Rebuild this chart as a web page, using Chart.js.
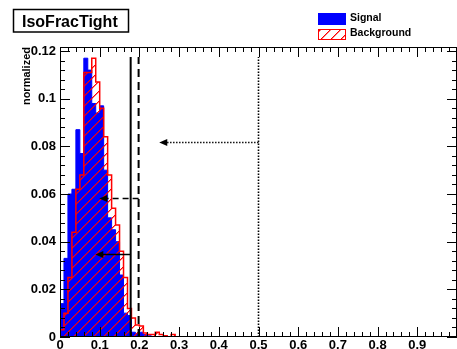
<!DOCTYPE html>
<html>
<head>
<meta charset="utf-8">
<script src="https://cdn.jsdelivr.net/npm/chart.js@4.4.1/dist/chart.umd.min.js"></script>
<style>
  html, body { margin: 0; padding: 0; background: #fff; }
  #wrap { width: 457px; height: 349px; }
</style>
</head>
<body>
<div id="wrap"><canvas id="c" width="457" height="349"></canvas></div>
<script>
// IsoFracTight distributions, normalized, bins of 0.01 starting at 0
const binWidth = 0.01;
const signal = [0.014, 0.033, 0.060, 0.062, 0.087, 0.077, 0.117, 0.112, 0.098, 0.094,
                0.097, 0.070, 0.050, 0.045, 0.040, 0.026, 0.010, 0.009, 0.002, 0.0015,
                0.002, 0.001, 0.0005, 0];
const background = [0.003, 0.010, 0.025, 0.044, 0.062, 0.068, 0.111, 0.111, 0.117, 0.107,
                    0.096, 0.084, 0.068, 0.054, 0.047, 0.036, 0.025, 0.012, 0.008, 0.005,
                    0.0046, 0.0017, 0.001, 0.001, 0.002, 0.001, 0.0005, 0, 0.001, 0];
const seriesNames = ['Signal', 'Background'];

const xTickLabels = ['0', '0.1', '0.2', '0.3', '0.4', '0.5', '0.6', '0.7', '0.8', '0.9'];
const yTickLabels = ['0', '0.02', '0.04', '0.06', '0.08', '0.1', '0.12'];
const xRange = [0, 1];
const yRange = [0, 0.1217];

// cut positions with their left-pointing arrows
const cutValues   = [0.178, 0.198, 0.5];
const arrowTips   = [0.089, 0.099, 0.25];
const arrowLevels = [0.035, 0.0585, 0.082];
const cutStyles   = ['solid', 'dashed', 'dotted'];
const cutLineTop  = 0.1175;

const plotTitle = 'IsoFracTight';
const yAxisTitle = 'normalized';

const FONT = '"Liberation Sans", Arial, Helvetica, sans-serif';
Chart.defaults.font.family = FONT;
Chart.defaults.color = '#000';

const canvas = document.getElementById('c');
const ctx2d = canvas.getContext('2d');

// crisp "///" hatch made of pixel steps
function makeHatch(color, size) {
  const c = document.createElement('canvas');
  c.width = size; c.height = size;
  const g = c.getContext('2d');
  g.fillStyle = color;
  for (let i = 0; i < size; i++) g.fillRect(i, size - 1 - i, 1, 1);
  g.globalAlpha = 0.5;
  for (let i = 0; i < size; i++) g.fillRect(i, (size - i) % size, 1, 1);
  return ctx2d.createPattern(c, 'repeat');
}
const redHatch = makeHatch('rgb(255,0,0)', 10);

// step outline points: left edge of each bin, closed down to zero and run out to the axis end
function histPoints(values) {
  const pts = [{ x: 0, y: 0 }];
  values.forEach((v, i) => pts.push({ x: i * binWidth, y: v }));
  pts.push({ x: values.length * binWidth, y: 0 });
  pts.push({ x: xRange[1], y: 0 });
  return pts;
}

function dashFor(style) {
  if (style === 'dashed') return [8, 5];
  if (style === 'dotted') return [1.4, 1.6];
  return [];
}

const cutsPlugin = {
  id: 'cuts',
  afterDatasetsDraw(chart) {
    const { ctx, scales: { x, y } } = chart;
    ctx.save();
    ctx.strokeStyle = '#000';
    ctx.fillStyle = '#000';
    cutValues.forEach((cv, i) => {
      const style = cutStyles[i];
      const px = x.getPixelForValue(cv);
      // vertical cut line
      ctx.lineWidth = style === 'dotted' ? 1.6 : 2;
      ctx.setLineDash(dashFor(style));
      ctx.beginPath();
      ctx.moveTo(px, y.getPixelForValue(0));
      ctx.lineTo(px, y.getPixelForValue(cutLineTop));
      ctx.stroke();
      // arrow shaft
      const py = Math.round(y.getPixelForValue(arrowLevels[i])) + 0.5;
      const tip = x.getPixelForValue(arrowTips[i]);
      ctx.lineWidth = style === 'dotted' ? 1.4 : 1.5;
      ctx.setLineDash(style === 'dashed' ? [6, 4] : dashFor(style));
      ctx.beginPath();
      ctx.moveTo(px, py);
      ctx.lineTo(tip + 6, py);
      ctx.stroke();
      // arrow head
      ctx.setLineDash([]);
      ctx.beginPath();
      ctx.moveTo(tip, py);
      ctx.lineTo(tip + 8, py - 3.5);
      ctx.lineTo(tip + 8, py + 3.5);
      ctx.closePath();
      ctx.fill();
    });
    ctx.restore();
  }
};

const framePlugin = {
  id: 'frame',
  afterDraw(chart) {
    const { ctx, chartArea: a, scales: { x, y } } = chart;
    ctx.save();
    ctx.strokeStyle = '#000';
    ctx.lineWidth = 1;
    ctx.setLineDash([]);
    ctx.strokeRect(a.left + 0.5, a.top + 0.5, a.right - a.left - 1, a.bottom - a.top - 1);
    ctx.beginPath();
    // x ticks, bottom and top, pointing inward
    for (let k = 0; k <= 50; k++) {
      const px = Math.round(x.getPixelForValue(k * 0.02)) + 0.5;
      const len = k % 5 === 0 ? 10 : 5;
      ctx.moveTo(px, a.bottom); ctx.lineTo(px, a.bottom - len);
      ctx.moveTo(px, a.top); ctx.lineTo(px, a.top + len);
    }
    // y ticks, left and right, pointing inward
    for (let k = 0; k <= 30; k++) {
      const v = k * 0.004;
      if (v > yRange[1]) break;
      const py = Math.round(y.getPixelForValue(v)) + 0.5;
      const len = k % 5 === 0 ? 10 : 5;
      ctx.moveTo(a.left, py); ctx.lineTo(a.left + len, py);
      ctx.moveTo(a.right, py); ctx.lineTo(a.right - len, py);
    }
    ctx.stroke();

    // x tick labels placed on the x scale
    ctx.fillStyle = '#000';
    ctx.font = 'bold 13px ' + FONT;
    ctx.textAlign = 'center';
    ctx.textBaseline = 'alphabetic';
    xTickLabels.forEach(l => {
      ctx.fillText(l, x.getPixelForValue(parseFloat(l)), a.bottom + 12);
    });

    // title box
    ctx.lineWidth = 1.5;
    ctx.strokeRect(13.5, 9.5, 115, 22.5);
    ctx.font = 'bold 16px ' + FONT;
    ctx.textAlign = 'left';
    ctx.fillText(plotTitle, 22, 26.5);

    // legend
    const ds = chart.data.datasets;
    ctx.font = 'bold 10.5px ' + FONT;
    ctx.fillStyle = ds[1].backgroundColor;
    ctx.fillRect(318, 13, 28, 12);
    ctx.fillStyle = '#000';
    ctx.fillText(ds[1].label, 350, 21);
    ctx.fillStyle = '#fff';
    ctx.fillRect(318, 29, 28, 11);
    ctx.fillStyle = ds[0].backgroundColor;
    ctx.fillRect(318, 29, 28, 11);
    ctx.strokeStyle = ds[0].borderColor;
    ctx.lineWidth = 1;
    ctx.strokeRect(318.5, 29.5, 27, 10);
    ctx.fillStyle = '#000';
    ctx.fillText(ds[0].label, 350, 36);
    ctx.restore();
  }
};

new Chart(canvas, {
  type: 'line',
  data: {
    datasets: [
      {
        label: seriesNames[1],
        data: histPoints(background),
        stepped: 'before',
        borderColor: 'rgb(255,0,0)',
        borderWidth: 1.5,
        backgroundColor: redHatch,
        fill: 'origin',
        pointRadius: 0,
        order: 1
      },
      {
        label: seriesNames[0],
        data: histPoints(signal),
        stepped: 'before',
        borderColor: 'rgb(0,0,255)',
        borderWidth: 1,
        backgroundColor: 'rgb(0,0,255)',
        fill: 'origin',
        pointRadius: 0,
        order: 2
      }
    ]
  },
  options: {
    responsive: false,
    animation: false,
    devicePixelRatio: 1,
    layout: { padding: { top: 47, right: -7, left: 0, bottom: 0 } },
    plugins: { legend: { display: false }, title: { display: false }, tooltip: { enabled: false } },
    scales: {
      x: {
        type: 'linear',
        min: xRange[0],
        max: xRange[1],
        grid: { display: false },
        border: { display: false },
        afterBuildTicks(scale) {
          scale.ticks = xTickLabels.map(l => ({ value: parseFloat(l) }));
        },
        afterFit(scale) { scale.height = 12; },
        ticks: { display: false }
      },
      y: {
        min: yRange[0],
        max: yRange[1],
        grid: { display: false, drawTicks: false },
        border: { display: false },
        afterBuildTicks(scale) {
          scale.ticks = yTickLabels.map(l => ({ value: parseFloat(l) }));
        },
        afterFit(scale) { scale.width = 60; },
        title: {
          display: true,
          text: yAxisTitle,
          align: 'end',
          font: { size: 11, weight: 'bold' },
          padding: { top: 20, bottom: 0 }
        },
        ticks: {
          autoSkip: false,
          padding: 4,
          font: { size: 13, weight: 'bold' },
          callback: (v, i) => yTickLabels[i]
        }
      }
    }
  },
  plugins: [cutsPlugin, framePlugin]
});
</script>
</body>
</html>
